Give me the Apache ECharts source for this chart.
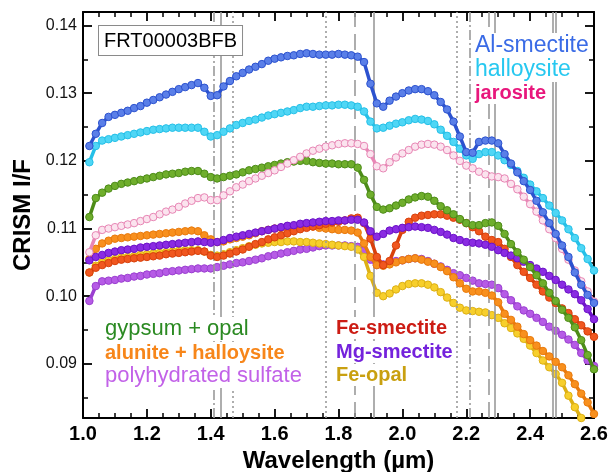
<!DOCTYPE html>
<html>
<head>
<meta charset="utf-8">
<script src="https://cdn.jsdelivr.net/npm/echarts@6/dist/echarts.min.js"></script>
<style>
html,body{margin:0;padding:0;background:#fff;}
#chart{width:608px;height:472px;}
</style>
</head>
<body>
<div id="chart"></div>
<script>
// Wavelength sampling (µm)
const wavelengths = [1.02,1.04,1.06,1.08,1.10,1.12,1.14,1.16,1.18,1.20,
1.22,1.24,1.26,1.28,1.30,1.32,1.34,1.36,1.38,1.40,
1.42,1.44,1.46,1.48,1.50,1.52,1.54,1.56,1.58,1.60,
1.62,1.64,1.66,1.68,1.70,1.72,1.74,1.76,1.78,1.80,
1.82,1.84,1.86,1.88,1.90,1.92,1.94,1.96,1.98,2.00,
2.02,2.04,2.06,2.08,2.10,2.12,2.14,2.16,2.18,2.20,
2.22,2.24,2.26,2.28,2.30,2.32,2.34,2.36,2.38,2.40,
2.42,2.44,2.46,2.48,2.50,2.52,2.54,2.56,2.58,2.60];

const alSmectite = [.1222,.1240,.1256,.1265,.1268,.1271,.1274,.1278,.1281,.1286,
.1290,.1294,.1298,.1302,.1306,.1309,.1312,.1315,.1308,.1296,
.1297,.1310,.1318,.1325,.1330,.1335,.1339,.1343,.1348,.1351,
.1353,.1355,.1356,.1358,.1359,.1358,.1357,.1357,.1357,.1358,
.1357,.1356,.1354,.1346,.1314,.1285,.1280,.1289,.1295,.1300,
.1304,.1306,.1306,.1303,.1297,.1287,.1276,.1258,.1236,.1213,
.1212,.1228,.1230,.1230,.1226,.1210,.1196,.1183,.1170,.1157,
.1141,.1124,.1108,.1092,.1075,.1058,.1035,.1017,.1002,.0990];

const halloysite = [.1198,.1222,.1230,.1232,.1234,.1236,.1238,.1240,.1242,.1244,
.1246,.1247,.1248,.1249,.1249,.1249,.1249,.1249,.1243,.1236,
.1238,.1243,.1248,.1253,.1256,.1259,.1261,.1264,.1267,.1269,
.1271,.1273,.1275,.1278,.1280,.1280,.1281,.1282,.1282,.1283,
.1283,.1282,.1280,.1273,.1258,.1248,.1249,.1252,.1255,.1257,
.1260,.1262,.1261,.1259,.1254,.1246,.1237,.1228,.1218,.1208,
.1203,.1210,.1213,.1213,.1208,.1201,.1194,.1185,.1175,.1165,
.1155,.1145,.1134,.1123,.1112,.1099,.1086,.1071,.1055,.1038];

const jarosite = [.1065,.1090,.1098,.1100,.1102,.1104,.1106,.1108,.1111,.1114,
.1117,.1121,.1125,.1128,.1132,.1137,.1141,.1145,.1146,.1142,
.1142,.1149,.1155,.1161,.1165,.1170,.1174,.1178,.1182,.1186,
.1191,.1196,.1201,.1206,.1211,.1215,.1218,.1221,.1223,.1225,
.1226,.1226,.1225,.1222,.1210,.1192,.1189,.1198,.1205,.1211,
.1216,.1221,.1224,.1225,.1224,.1221,.1216,.1208,.1200,.1193,
.1189,.1184,.1180,.1177,.1176,.1174,.1166,.1158,.1147,.1136,
.1125,.1112,.1099,.1086,.1070,.1054,.1038,.1022,.1007,.0992];

const gypsumOpal = [.1117,.1145,.1153,.1159,.1163,.1166,.1168,.1170,.1172,.1174,
.1176,.1178,.1180,.1181,.1182,.1184,.1185,.1185,.1181,.1176,
.1174,.1176,.1178,.1180,.1183,.1186,.1188,.1190,.1192,.1194,
.1196,.1198,.1199,.1200,.1200,.1198,.1197,.1196,.1196,.1195,
.1195,.1195,.1190,.1172,.1150,.1132,.1128,.1130,.1134,.1138,
.1143,.1146,.1148,.1147,.1141,.1133,.1127,.1121,.1114,.1108,
.1105,.1105,.1108,.1109,.1104,.1092,.1077,.1065,.1054,.1043,
.1031,.1019,.1005,.0993,.0980,.0968,.0954,.0935,.0913,.0892];

const aluniteHalloysite = [.1055,.1070,.1078,.1082,.1085,.1086,.1087,.1088,.1089,.1090,
.1091,.1092,.1093,.1094,.1095,.1096,.1097,.1096,.1090,.1084,
.1080,.1081,.1084,.1086,.1088,.1090,.1093,.1096,.1098,.1100,
.1101,.1103,.1104,.1104,.1104,.1103,.1101,.1100,.1099,.1098,
.1098,.1097,.1094,.1078,.1058,.1046,.1045,.1047,.1050,.1053,
.1055,.1056,.1054,.1051,.1048,.1043,.1037,.1028,.1019,.1011,
.1007,.1007,.1005,.1001,.0991,.0974,.0965,.0955,.0944,.0935,
.0927,.0919,.0911,.0903,.0895,.0883,.0870,.0856,.0843,.0826];

const polySulfate = [.0993,.1015,.1022,.1023,.1024,.1026,.1027,.1029,.1030,.1032,
.1033,.1034,.1036,.1037,.1038,.1039,.1040,.1041,.1041,.1041,
.1043,.1045,.1047,.1049,.1050,.1052,.1054,.1056,.1059,.1061,
.1063,.1065,.1067,.1069,.1070,.1072,.1074,.1075,.1075,.1075,
.1075,.1074,.1073,.1068,.1054,.1046,.1047,.1050,.1052,.1053,
.1055,.1056,.1055,.1052,.1048,.1044,.1039,.1034,.1031,.1027,
.1023,.1019,.1018,.1017,.1012,.1003,.0994,.0985,.0979,.0974,
.0968,.0962,.0955,.0949,.0943,.0936,.0928,.0916,.0905,.0897];

const feSmectite = [.1035,.1042,.1046,.1049,.1052,.1054,.1055,.1056,.1057,.1058,
.1059,.1060,.1062,.1063,.1064,.1065,.1066,.1067,.1066,.1060,
.1058,.1060,.1063,.1066,.1069,.1073,.1077,.1080,.1084,.1087,
.1090,.1093,.1096,.1099,.1101,.1103,.1105,.1107,.1109,.1110,
.1112,.1115,.1116,.1108,.1085,.1058,.1046,.1052,.1075,.1098,
.1110,.1116,.1119,.1120,.1121,.1121,.1119,.1116,.1113,.1108,
.1102,.1096,.1088,.1083,.1080,.1070,.1058,.1046,.1036,.1027,
.1017,.1007,.0998,.0990,.0982,.0975,.0966,.0957,.0948,.0940];

const mgSmectite = [.1053,.1058,.1061,.1064,.1066,.1068,.1069,.1070,.1072,.1073,
.1074,.1075,.1076,.1077,.1078,.1079,.1080,.1081,.1080,.1079,
.1080,.1083,.1086,.1088,.1090,.1092,.1094,.1096,.1098,.1100,
.1102,.1104,.1105,.1107,.1108,.1109,.1110,.1111,.1111,.1112,
.1112,.1113,.1113,.1109,.1096,.1088,.1092,.1097,.1099,.1101,
.1102,.1103,.1102,.1101,.1098,.1095,.1091,.1086,.1083,.1080,
.1079,.1078,.1076,.1073,.1068,.1064,.1060,.1056,.1051,.1046,
.1041,.1036,.1030,.1024,.1017,.1010,.1003,.0994,.0981,.0966];

const feOpal = [.1035,.1045,.1050,.1053,.1055,.1057,.1058,.1059,.1061,.1062,
.1063,.1064,.1065,.1066,.1067,.1068,.1068,.1068,.1066,.1061,
.1060,.1062,.1065,.1068,.1071,.1074,.1076,.1078,.1079,.1080,
.1080,.1081,.1081,.1080,.1080,.1079,.1078,.1077,.1076,.1075,
.1074,.1073,.1069,.1058,.1030,.1005,.1000,.1004,.1010,.1015,
.1018,.1019,.1019,.1017,.1013,.1006,.0998,.0990,.0983,.0979,
.0978,.0977,.0976,.0972,.0968,.0960,.0953,.0945,.0937,.0927,
.0916,.0905,.0895,.0885,.0872,.0853,.0836,.0820,.0805,.0790];

// Reference band positions (µm) and their line kinds
const bandPositions = [1.41, 1.43, 1.47, 1.76, 1.85, 1.91, 2.17, 2.21, 2.27, 2.29, 2.47, 2.485];
const bandKinds = ['dashdot','solid','dot','dot','dash','solid','dot','dashdot','dash','solid','solid','solid'];

const xTickLabels = ['1.0','1.2','1.4','1.6','1.8','2.0','2.2','2.4','2.6'];

const dashMap = {solid:'solid', dot:[2,3], dash:[16,7], dashdot:[10,3,2,3]};

function pairs(vals){ return wavelengths.map((w,i)=>[w, vals[i]]); }

function spec(name, vals, fill, edge, z){
  return {
    type:'line', name:name, data:pairs(vals), z:z,
    symbol:'circle', symbolSize:7.5, showSymbol:true,
    itemStyle:{color:fill, borderColor:edge, borderWidth:1},
    lineStyle:{color:edge, width:3.5},
    emphasis:{disabled:true}, silent:true, clip:true
  };
}

const FONT = '"Liberation Sans", Arial, Helvetica, sans-serif';

const chart = echarts.init(document.getElementById('chart'), null, {renderer:'canvas'});

const series = [
  {
    type:'line', data:[], z:1, silent:true,
    markLine:{
      silent:true, symbol:['none','none'], label:{show:false},
      animation:false,
      data: bandPositions.map((p,i)=>({
        xAxis:p,
        lineStyle:{color:'#9a9a9a', width:1.6, type:dashMap[bandKinds[i]]}
      }))
    }
  },
  spec('polyhydrated sulfate', polySulfate, '#b65be6', '#9b3fd0', 3),
  spec('Fe-opal', feOpal, '#f7cf2c', '#ddb014', 4),
  spec('alunite + halloysite', aluniteHalloysite, '#f8901e', '#e97a0c', 5),
  spec('Fe-smectite', feSmectite, '#f0571f', '#d8400c', 6),
  spec('Mg-smectite', mgSmectite, '#8a2be2', '#6c12c8', 7),
  spec('gypsum + opal', gypsumOpal, '#6fae2c', '#4d8c18', 8),
  spec('jarosite', jarosite, '#fbe3ee', '#e886b5', 9),
  spec('halloysite', halloysite, '#4fd6f5', '#25c0e8', 10),
  spec('Al-smectite', alSmectite, '#5a7fe8', '#2c52cf', 11)
];

function label(text, left, top, color, bold, size){
  return {
    type:'text', left:left, top:top, z:100,
    style:{
      text:text, fill:color,
      font:(bold?'bold ':'') + size + 'px ' + FONT,
      backgroundColor:'#ffffff', padding:[1,2]
    }
  };
}

const option = {
  animation:false,
  backgroundColor:'#ffffff',
  grid:{left:83, right:14, top:12, bottom:54, containLabel:false, outerBoundsMode:'none'},
  xAxis:[{
    type:'value', min:1.0, max:2.6, interval:0.2, position:'bottom',
    name:'Wavelength (\u00b5m)', nameLocation:'middle', nameGap:30,
    nameTextStyle:{fontFamily:FONT, fontWeight:'bold', fontSize:24, color:'#000'},
    axisLine:{show:true, onZero:false, lineStyle:{color:'#000', width:2}},
    axisTick:{show:true, inside:true, length:9, lineStyle:{color:'#000', width:1.8}},
    minorTick:{show:true, splitNumber:4, length:5, lineStyle:{color:'#000', width:1.5}},
    axisLabel:{fontFamily:FONT, fontWeight:'bold', fontSize:20, color:'#000', margin:6,
      formatter:(v)=>{ const s=v.toFixed(1); return xTickLabels.indexOf(s)>=0 ? s : ''; }},
    splitLine:{show:false}
  },{
    type:'value', min:1.0, max:2.6, interval:0.2, position:'top',
    axisLine:{show:true, onZero:false, lineStyle:{color:'#000', width:2}},
    axisTick:{show:true, inside:true, length:9, lineStyle:{color:'#000', width:1.8}},
    minorTick:{show:true, splitNumber:4, length:5, lineStyle:{color:'#000', width:1.5}},
    axisLabel:{show:false}, splitLine:{show:false}
  }],
  yAxis:[{
    type:'value', min:0.082, max:0.142, splitNumber:6, position:'left',
    name:'CRISM I/F', nameLocation:'middle', nameGap:46,
    nameTextStyle:{fontFamily:FONT, fontWeight:'bold', fontSize:24, color:'#000'},
    axisLine:{show:true, onZero:false, lineStyle:{color:'#000', width:2}},
    axisTick:{show:true, inside:true, length:9, lineStyle:{color:'#000', width:1.8}},
    minorTick:{show:true, splitNumber:2, length:5, lineStyle:{color:'#000', width:1.5}},
    axisLabel:{fontFamily:FONT, fontSize:16, color:'#111', margin:6,
      showMinLabel:false, showMaxLabel:false,
      formatter:(v)=>v.toFixed(2)},
    splitLine:{show:false}
  },{
    type:'value', min:0.082, max:0.142, splitNumber:6, position:'right',
    axisLine:{show:true, onZero:false, lineStyle:{color:'#000', width:2}},
    axisTick:{show:true, inside:true, length:9, lineStyle:{color:'#000', width:1.8}},
    minorTick:{show:true, splitNumber:2, length:5, lineStyle:{color:'#000', width:1.5}},
    axisLabel:{show:false}, splitLine:{show:false}
  }],
  graphic:[
    {
      type:'text', left:98, top:25, z:100,
      style:{text:'FRT00003BFB', fill:'#000', font:'20px '+FONT,
        backgroundColor:'#fff', borderColor:'#8a8a8a', borderWidth:1, padding:[5,5,4,5]}
    },
    label('Al-smectite', 473, 33, '#3a6be6', false, 23),
    label('halloysite', 473, 57, '#27c8f0', false, 23),
    label('jarosite', 473, 82, '#e8177c', true, 20),
    label('gypsum + opal', 103, 317, '#2b8a22', false, 22),
    label('alunite + halloysite', 103, 342, '#f7861a', true, 20),
    label('polyhydrated sulfate', 103, 364, '#c262e8', false, 22),
    label('Fe-smectite', 334, 317, '#cc1c14', true, 20),
    label('Mg-smectite', 334, 341, '#7422dc', true, 20),
    label('Fe-opal', 334, 364, '#c9a010', true, 20)
  ],
  series:series
};

chart.setOption(option);
</script>
</body>
</html>
